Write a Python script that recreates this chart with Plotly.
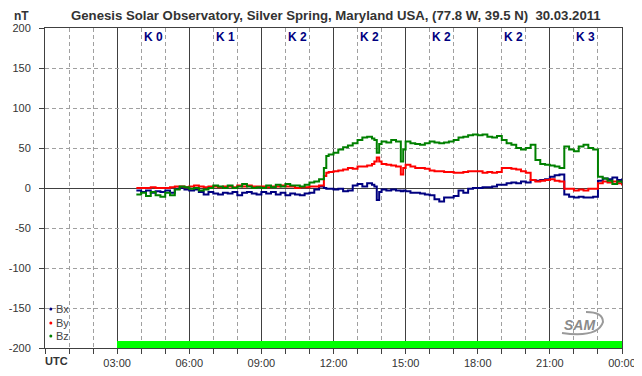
import plotly.graph_objects as go

# ---------------- data ----------------
hours = [3.8, 4.0, 4.2, 4.4, 4.6, 4.8, 5.0, 5.2, 5.4, 5.6, 5.8, 6.0, 6.2, 6.4, 6.6, 6.8,
         7.0, 7.2, 7.4, 7.6, 7.8, 8.0, 8.2, 8.4, 8.6, 8.8, 9.0, 9.2, 9.4, 9.6, 9.8,
         10.0, 10.2, 10.4, 10.6, 10.8, 11.0, 11.2, 11.4, 11.6, 11.7, 11.8, 12.0, 12.2,
         12.4, 12.6, 12.8, 13.0, 13.2, 13.4, 13.6, 13.7, 13.8, 13.9, 14.0, 14.2, 14.4,
         14.6, 14.8, 14.9, 15.0, 15.2, 15.4, 15.6, 15.8, 16.0, 16.2, 16.4, 16.6, 16.8,
         17.0, 17.2, 17.4, 17.6, 17.8, 18.0, 18.2, 18.4, 18.6, 18.8, 19.0, 19.2, 19.4,
         19.6, 19.8, 20.0, 20.2, 20.4, 20.6, 20.8, 21.0, 21.2, 21.4, 21.6, 21.8, 22.0,
         22.2, 22.4, 22.6, 22.8, 23.0, 23.2, 23.4, 23.6, 23.8, 24.0]

bx = [-3, -5, -3, -6, -4, -5, -3, -6, -1, 0, -2, -3, -2, -5, -8, -5,
      -7, -8, -6, -7, -5, -9, -6, -5, -7, -8, -5, -7, -5, -8, -6,
      -9, -7, -8, -9, -7, -6, -2, 2, 0, -1, -1, -2, -1,
      -4, -3, 3, 5, 2, 6, 4, 2, -15, -5, -2, -3, -2,
      -3, -4, -3, -4, -6, -6, -7, -8, -9, -14, -17, -12, -12,
      -10, -3, -6, -1, 0, 0, 1, 1, 2, 4, 4, 6, 7,
      6, 8, 7, 10, 9, 10, 11, 14, 16, 17, -8, -11, -12,
      -11, -12, -12, -11, 9, 12, 11, 13, 10, 12]

by = [0, 0, 0, 1, 0, 0, 0, 1, 2, 2, 1, 2, 3, 2, 1, 2,
      2, 1, 2, 2, 1, 3, 2, 3, 2, 2, 2, 1, 2, 2, 3,
      2, 2, 0, 1, 1, 2, 2, 3, 15, 19, 20, 21, 22,
      23, 25, 24, 27, 27, 28, 30, 33, 38, 33, 30, 29, 28,
      27, 17, 25, 29, 27, 25, 25, 24, 22, 21, 21, 20, 20,
      19, 19, 20, 21, 21, 21, 19, 20, 19, 20, 25, 25, 24,
      23, 21, 19, 10, 8, 9, 10, 11, 9, 8, -1, -1, -3,
      -2, -3, -1, -1, 6, 8, 7, 8, 6, 3]

bz = [-8, -6, -10, -5, -9, -11, -6, -9, -2, 2, 1, -1, 0, -3, -2, 0,
      3, 2, 0, 3, 0, 2, 5, 2, 0, 1, 0, 3, 1, 4, 2,
      5, 3, 3, 2, 4, 7, 8, 11, 25, 40, 42, 44, 48,
      51, 53, 56, 60, 63, 64, 62, 60, 44, 55, 58, 57, 60,
      58, 33, 48, 58, 56, 55, 54, 56, 58, 57, 56, 57, 58,
      60, 63, 64, 66, 67, 66, 67, 64, 63, 65, 60, 56, 54,
      50, 48, 50, 54, 35, 30, 29, 28, 27, 25, 52, 48, 46,
      52, 54, 50, 48, 14, 12, 9, 5, 8, 6]

k_labels = ["K 0", "K 1", "K 2", "K 2", "K 2", "K 2", "K 3"]
k_centers = [4.5, 7.5, 10.5, 13.5, 16.5, 19.5, 22.5]

tick_hours = [3, 6, 9, 12, 15, 18, 21, 24]
tick_labels = ["03:00", "06:00", "09:00", "12:00", "15:00", "18:00", "21:00", "00:00"]

y_ticks = [-200, -150, -100, -50, 0, 50, 100, 150, 200]
y_tick_labels = ["-200", "-150", "-100", "-50", "0", "50", "100", "150", "200"]

coverage_start = 3
coverage_end = 24
coverage_height = 9

series_names = ["Bx", "By", "Bz"]
series_colors = ["#000080", "#ff0000", "#008000"]

# ---------------- figure ----------------
# the page body has an 8px margin, so the figure is drawn 8px smaller
OFF = 8
W, H = 642 - OFF, 376 - OFF
PL, PR, PT, PB = 45, 622, 28, 348          # plot box in window pixels
ML, MR, MT, MB = PL - OFF, 642 - PR, PT - OFF, 376 - PB
PW, PH = PR - PL, PB - PT


def px_x(px):
    return (px - PL) / PW


def px_y(py):
    return (PB - py) / PH


def label(px, py, text, size, color, bold=False, xanchor="center", family="Liberation Sans"):
    return dict(x=px_x(px), y=px_y(py), xref="paper", yref="paper", text=text,
                xanchor=xanchor, yanchor="middle", showarrow=False, borderpad=0,
                font=dict(family=family, size=size, color=color,
                          weight="bold" if bold else "normal"))


fig = go.Figure()

fig.add_trace(go.Bar(
    x=[(coverage_start + coverage_end) / 2], y=[coverage_height], base=[-200],
    width=[coverage_end - coverage_start], marker=dict(color="#00ff00", line=dict(width=0)),
    showlegend=False, hoverinfo="skip"))

for name, vals, col in zip(series_names, [bx, by, bz], series_colors):
    fig.add_trace(go.Scatter(x=hours, y=vals, mode="lines", name=name,
                             line=dict(color=col, width=2, shape="hv"),
                             showlegend=False))

annotations = []
for lab, xc in zip(k_labels, k_centers):
    annotations.append(dict(x=xc, y=px_y(37), xref="x", yref="paper", text=lab,
                            xanchor="center", yanchor="middle", showarrow=False,
                            font=dict(family="Liberation Sans", size=12, color="#000080",
                                      weight="bold")))

annotations.append(label(336, 15.5,
                         "Genesis Solar Observatory, Silver Spring, Maryland USA, (77.8 W, 39.5 N)&nbsp;&nbsp;30.03.2011",
                         13.2, "#333333", bold=True))
annotations.append(label(21, 15.5, "nT", 12, "#333333", bold=True))
annotations.append(label(56, 361, "UTC", 11, "#333333", bold=True))
annotations.append(label(579, 325, "<i>SAM</i>", 14, "#8a8a8a", bold=True))

shapes = []
leg_y = [309, 323, 336]
for name, col, yy in zip(series_names, series_colors, leg_y):
    annotations.append(label(55, yy, name, 11, "#444444", xanchor="left"))
    shapes.append(dict(type="circle", xref="paper", yref="paper",
                       x0=px_x(49.3), x1=px_x(52.3), y0=px_y(yy + 1.5), y1=px_y(yy - 1.5),
                       fillcolor=col, line=dict(color=col, width=0)))

# logo swoosh
shapes.append(dict(type="path", xref="paper", yref="paper",
                   path=f"M {px_x(562)},{px_y(333)} Q {px_x(598)},{px_y(338)} {px_x(603)},{px_y(322)}"
                        f" Q {px_x(603)},{px_y(312)} {px_x(586)},{px_y(312)}",
                   line=dict(color="#9a9a9a", width=2)))

fig.update_layout(
    width=W, height=H,
    margin=dict(l=ML, r=MR, t=MT, b=MB, autoexpand=False),
    paper_bgcolor="white", plot_bgcolor="white",
    showlegend=False,
    annotations=annotations, shapes=shapes,
    bargap=0,
    xaxis=dict(range=[0, 24], tickmode="array", tickvals=tick_hours, ticktext=tick_labels,
               automargin=False,
               showgrid=True, gridcolor="#404040", gridwidth=1,
               ticks="outside", ticklen=5, tickcolor="#404040",
               minor=dict(tickmode="linear", tick0=0, dtick=1, showgrid=True,
                          gridcolor="#a0a0a0", griddash="4px,3px", gridwidth=1,
                          ticks="outside", ticklen=5, tickcolor="#404040"),
               showline=True, linecolor="#404040", linewidth=1, mirror=True,
               zeroline=False, fixedrange=True,
               tickfont=dict(family="Liberation Sans", size=11, color="#333333")),
    yaxis=dict(range=[-200, 200], tickmode="array", tickvals=y_ticks, ticktext=y_tick_labels,
               automargin=False,
               showgrid=True, gridcolor="#a0a0a0", griddash="4px,3px", gridwidth=1,
               zeroline=True, zerolinecolor="#404040", zerolinewidth=1,
               ticks="outside", ticklen=5, tickcolor="#404040", ticklabelstandoff=6,
               showline=True, linecolor="#404040", linewidth=1, mirror=True,
               fixedrange=True,
               tickfont=dict(family="Liberation Sans", size=11, color="#333333")),
)

fig.write_html("out.html")
